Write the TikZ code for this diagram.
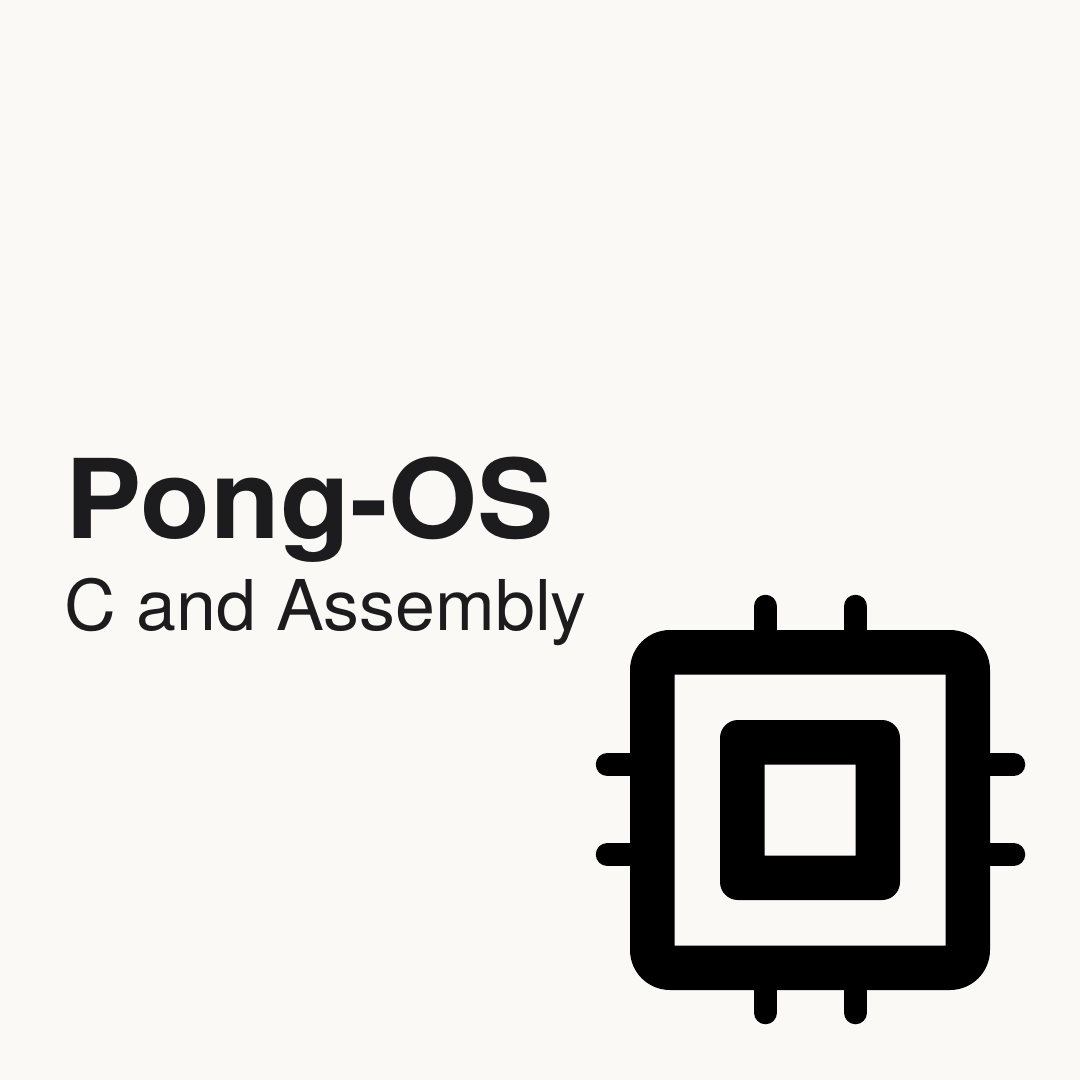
\documentclass[tikz,border=0pt]{standalone}
\usepackage{fontspec}
\setmainfont{TeX Gyre Heros}
\newfontfamily\titlefont[FakeStretch=1.04]{TeX Gyre Heros}
\newfontfamily\subfont[FakeStretch=1.025]{TeX Gyre Heros}
\definecolor{bgc}{HTML}{FAF9F5}
\definecolor{inkc}{HTML}{1C1C1E}
\tikzset{
  pinline/.style={line width=23.5,line cap=round,draw=black},
  titletext/.style={anchor=base west,inner sep=0pt,text=inkc,font=\titlefont\bfseries\fontsize{110}{110}\selectfont},
  subtext/.style={anchor=base west,inner sep=0pt,text=inkc,font=\subfont\fontsize{70}{70}\selectfont}
}
\begin{document}
\begin{tikzpicture}[x=1pt,y=-1pt]
\useasboundingbox (0,0) rectangle (1080,1080);
\fill[bgc] (0,0) rectangle (1080,1080);
\node[titletext] (title) at (65.5,538.5) {Pong-OS};
\node[subtext] (sub) at (64.5,630.5) {C and Assembly};
\foreach \p in {765.5,855.5}{
  \draw[pinline] (\p,606.5) -- (\p,640);
  \draw[pinline] (\p,1012.5) -- (\p,980);
}
\foreach \p in {764.5,854.5}{
  \draw[pinline] (607.5,\p) -- (640,\p);
  \draw[pinline] (1013.5,\p) -- (980,\p);
}
\fill[black,even odd rule]
  [rounded corners=40] (630,630) rectangle (990,990)
  [rounded corners=0] (674.5,674.5) rectangle (945.5,945.5);
\fill[black,even odd rule]
  [rounded corners=18] (720,720) rectangle (900,900)
  [rounded corners=0] (764.5,764.5) rectangle (855.5,855.5);
\end{tikzpicture}
\end{document}
